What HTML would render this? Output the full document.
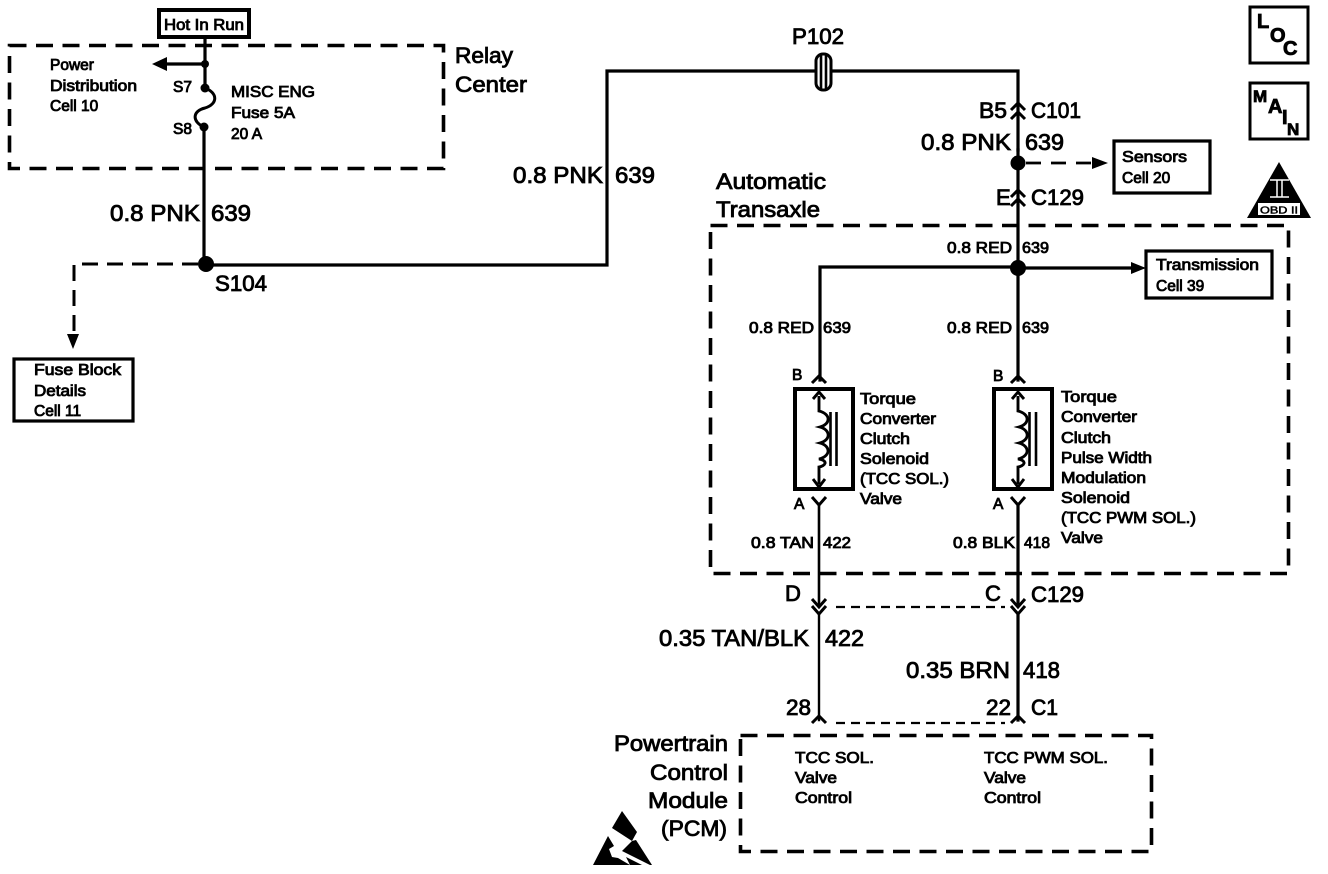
<!DOCTYPE html>
<html>
<head>
<meta charset="utf-8">
<style>
html,body{margin:0;padding:0;background:#fff;width:1328px;height:874px;overflow:hidden}
svg{display:block}
text{font-family:"Liberation Sans",sans-serif;fill:#000;stroke:#000;stroke-width:.85px}
.l{font-size:23px}
.m{font-size:22px}
.s{font-size:15.5px}
.w{fill:none;stroke:#000;stroke-width:3.2;stroke-linecap:square}
.t{fill:none;stroke:#000;stroke-width:2.9}
.d{fill:none;stroke:#000;stroke-width:3.6;stroke-dasharray:17 9.5}
.n{fill:none;stroke:#000;stroke-width:2.2;stroke-dasharray:9 6}
.b{fill:#fff;stroke:#000;stroke-width:3.2}
.c{fill:none;stroke:#000;stroke-width:3}
</style>
</head>
<body>
<svg width="1328" height="874" viewBox="0 0 1328 874" xmlns="http://www.w3.org/2000/svg">
<!-- dashed enclosures -->
<rect x="9.5" y="45.5" width="434" height="123" class="d"/>
<rect x="710.5" y="225.5" width="578" height="348" class="d"/>
<rect x="740.5" y="735.5" width="411" height="116" class="d"/>

<!-- Hot In Run -->
<rect x="159" y="10" width="90" height="27" fill="#fff" stroke="#000" stroke-width="4"/>
<text class="s" x="164" y="30" textLength="80" lengthAdjust="spacingAndGlyphs">Hot In Run</text>

<!-- left wire and fuse -->
<path class="w" d="M205 39V88"/>
<path class="w" d="M204 127V264"/>
<path d="M205 88C218 93 218 104 205 108C192 111 192 122 204 127" fill="none" stroke="#000" stroke-width="3"/>
<circle cx="205" cy="64" r="4"/><circle cx="205" cy="88" r="4.5"/><circle cx="204" cy="127" r="4.5"/>
<path class="w" d="M205 64H165"/>
<path d="M152 64L167 57V71Z"/>
<circle cx="206" cy="264" r="8"/>

<!-- main wire -->
<path class="w" d="M206 265H607V71H1018V150"/>
<path class="w" d="M1018 150V380"/>
<path class="w" d="M1018 268H1133"/>
<path d="M1146 268L1131 262V274Z"/>
<path class="w" d="M1018 267H820V380"/>
<circle cx="1018" cy="163" r="7.5"/>
<circle cx="1018" cy="268" r="8"/>

<!-- P102 -->
<rect x="816" y="54" width="15" height="36" rx="7" fill="#fff" stroke="#000" stroke-width="3"/>
<path d="M821 54V90M826 54V90" stroke="#000" stroke-width="2.6"/>

<!-- C101 / C129 chevrons -->
<path class="c" d="M1011 110L1018 103L1025 110M1011 119L1018 112L1025 119"/>
<path class="c" d="M1011 197L1018 190L1025 197M1011 206L1018 199L1025 206"/>

<!-- dashed branches -->
<path d="M198 264H74V340" fill="none" stroke="#000" stroke-width="3" stroke-dasharray="16 9"/>
<path d="M73 349L67 334H79Z"/>
<path d="M1026 163H1092" fill="none" stroke="#000" stroke-width="2.8" stroke-dasharray="15 10"/>
<path d="M1108 163L1092 157V169Z"/>

<!-- reference boxes -->
<rect x="14" y="359" width="119" height="62" class="b"/>
<rect x="1114" y="141" width="96" height="52" class="b"/>
<rect x="1146" y="251" width="126" height="47" class="b"/>
<rect x="1250" y="7" width="58" height="56" fill="#fff" stroke="#000" stroke-width="3"/>
<rect x="1250" y="83" width="58" height="56" fill="#fff" stroke="#000" stroke-width="3"/>

<!-- OBD triangle -->
<path d="M1279 162L1247 218H1311Z"/>
<path d="M1270 180H1289M1270 197H1289M1277 180V197M1282 180V197" stroke="#fff" stroke-width="1.5"/>
<rect x="1258" y="203" width="42" height="12" fill="#fff"/>
<text x="1260" y="213.5" font-size="10.5" textLength="38" lengthAdjust="spacingAndGlyphs" style="stroke-width:.5px">OBD II</text>

<!-- solenoids -->
<g>
<rect x="795" y="389" width="58" height="100" fill="none" stroke="#000" stroke-width="4"/>
<path class="t" d="M819 396V411C831 414 831 424 820 427C831 430 831 440 820 443C831 446 831 456 819 459C829 461 825 466 819 467V484"/>
<path class="t" d="M813 399L819 392L825 399M813 479L819 487L825 479"/>
<path d="M830.5 412V466M836.5 412V466" stroke="#000" stroke-width="2.6"/>
</g>
<g>
<rect x="994" y="389" width="58" height="100" fill="none" stroke="#000" stroke-width="4"/>
<path class="t" d="M1018 396V411C1030 414 1030 424 1019 427C1030 430 1030 440 1019 443C1030 446 1030 456 1018 459C1028 461 1024 466 1018 467V484"/>
<path class="t" d="M1012 399L1018 392L1024 399M1012 479L1018 487L1024 479"/>
<path d="M1029.5 412V466M1036 412V466" stroke="#000" stroke-width="2.6"/>
</g>

<!-- solenoid connectors -->
<path class="c" d="M812 383L819 376L826 383M1011 383L1018 376L1025 383"/>
<path class="c" d="M812 497L819 505L826 497M1011 497L1018 505L1025 497"/>

<!-- lower wires -->
<path class="w" d="M819 505V605" style="stroke-width:2.6"/>
<path class="w" d="M1018 505V605"/>
<path class="c" d="M812 599L819 607L826 599M1011 599L1018 607L1025 599"/>
<path class="c" d="M812 606L819 614L826 606M1011 606L1018 614L1025 606"/>
<path class="n" d="M836 607H1005"/>
<path class="w" d="M819 614V720" style="stroke-width:2.4"/>
<path class="w" d="M1018 614V720"/>
<path class="c" d="M812 723L819 716L826 723M1011 723L1018 716L1025 723"/>
<path class="n" d="M836 723H1005"/>

<!-- ESD symbol -->
<path d="M622 811L612 828L632 841L637 832Z"/>
<path d="M608 836L593 865H630L618 858L612 857L609 849L614 846Z"/>
<path d="M632 841L622 851L650 865H652L636 840Z"/>
<path d="M626 857L642 865H630Z"/>

<!-- big labels -->
<text class="m" x="455" y="63" textLength="58" lengthAdjust="spacingAndGlyphs">Relay</text>
<text class="m" x="455" y="92" textLength="72" lengthAdjust="spacingAndGlyphs">Center</text>
<text class="l" x="110" y="221" textLength="90" lengthAdjust="spacingAndGlyphs">0.8 PNK</text>
<text class="l" x="211" y="221" textLength="40" lengthAdjust="spacingAndGlyphs">639</text>
<text class="m" x="215" y="291" textLength="52" lengthAdjust="spacingAndGlyphs">S104</text>
<text class="m" x="792" y="44" textLength="52" lengthAdjust="spacingAndGlyphs">P102</text>
<text class="l" x="513" y="183" textLength="90" lengthAdjust="spacingAndGlyphs">0.8 PNK</text>
<text class="l" x="615" y="183" textLength="40" lengthAdjust="spacingAndGlyphs">639</text>
<text class="m" x="979" y="118" textLength="28" lengthAdjust="spacingAndGlyphs">B5</text>
<text class="m" x="1031" y="118" textLength="50" lengthAdjust="spacingAndGlyphs">C101</text>
<text class="l" x="921" y="150" textLength="90" lengthAdjust="spacingAndGlyphs">0.8 PNK</text>
<text class="l" x="1025" y="150" textLength="39" lengthAdjust="spacingAndGlyphs">639</text>
<text class="m" x="716" y="189" textLength="110" lengthAdjust="spacingAndGlyphs">Automatic</text>
<text class="m" x="716" y="217" textLength="104" lengthAdjust="spacingAndGlyphs">Transaxle</text>
<text class="m" x="996" y="205">E</text>
<text class="m" x="1031" y="205" textLength="53" lengthAdjust="spacingAndGlyphs">C129</text>
<text class="m" x="785" y="601">D</text>
<text class="m" x="985" y="601">C</text>
<text class="m" x="1031" y="602" textLength="53" lengthAdjust="spacingAndGlyphs">C129</text>
<text class="l" x="659" y="646" textLength="150" lengthAdjust="spacingAndGlyphs">0.35 TAN/BLK</text>
<text class="l" x="825" y="646" textLength="39" lengthAdjust="spacingAndGlyphs">422</text>
<text class="l" x="906" y="678" textLength="104" lengthAdjust="spacingAndGlyphs">0.35 BRN</text>
<text class="l" x="1023" y="678" textLength="37" lengthAdjust="spacingAndGlyphs">418</text>
<text class="m" x="786" y="715" textLength="25" lengthAdjust="spacingAndGlyphs">28</text>
<text class="m" x="986" y="715" textLength="25" lengthAdjust="spacingAndGlyphs">22</text>
<text class="m" x="1031" y="715" textLength="27" lengthAdjust="spacingAndGlyphs">C1</text>
<text class="m" x="614" y="751" textLength="114" lengthAdjust="spacingAndGlyphs">Powertrain</text>
<text class="m" x="650" y="780" textLength="78" lengthAdjust="spacingAndGlyphs">Control</text>
<text class="m" x="648" y="808" textLength="80" lengthAdjust="spacingAndGlyphs">Module</text>
<text class="m" x="661" y="836" textLength="66" lengthAdjust="spacingAndGlyphs">(PCM)</text>

<!-- small labels -->
<g class="s">
<text x="50" y="70">Power</text>
<text x="50" y="91" textLength="87" lengthAdjust="spacingAndGlyphs">Distribution</text>
<text x="50" y="111">Cell 10</text>
<text x="173" y="92">S7</text>
<text x="173" y="134">S8</text>
<text x="231" y="97" textLength="84" lengthAdjust="spacingAndGlyphs">MISC ENG</text>
<text x="231" y="118" textLength="64" lengthAdjust="spacingAndGlyphs">Fuse 5A</text>
<text x="231" y="139">20 A</text>
<text x="34" y="375" textLength="87" lengthAdjust="spacingAndGlyphs">Fuse Block</text>
<text x="34" y="396" textLength="52" lengthAdjust="spacingAndGlyphs">Details</text>
<text x="34" y="416">Cell 11</text>
<text x="1122" y="162" textLength="65" lengthAdjust="spacingAndGlyphs">Sensors</text>
<text x="1122" y="183">Cell 20</text>
<text x="1156" y="270" textLength="103" lengthAdjust="spacingAndGlyphs">Transmission</text>
<text x="1156" y="291">Cell 39</text>
<text x="947" y="253" textLength="65" lengthAdjust="spacingAndGlyphs">0.8 RED</text>
<text x="1022" y="253" textLength="27" lengthAdjust="spacingAndGlyphs">639</text>
<text x="749" y="333" textLength="65" lengthAdjust="spacingAndGlyphs">0.8 RED</text>
<text x="823" y="333" textLength="28" lengthAdjust="spacingAndGlyphs">639</text>
<text x="947" y="333" textLength="65" lengthAdjust="spacingAndGlyphs">0.8 RED</text>
<text x="1022" y="333" textLength="27" lengthAdjust="spacingAndGlyphs">639</text>
<text x="792" y="380">B</text>
<text x="993" y="381">B</text>
<text x="794" y="509">A</text>
<text x="993" y="509">A</text>
<text x="860" y="404" textLength="56" lengthAdjust="spacingAndGlyphs">Torque</text>
<text x="860" y="424" textLength="76" lengthAdjust="spacingAndGlyphs">Converter</text>
<text x="860" y="444" textLength="50" lengthAdjust="spacingAndGlyphs">Clutch</text>
<text x="860" y="464" textLength="69" lengthAdjust="spacingAndGlyphs">Solenoid</text>
<text x="860" y="484" textLength="89" lengthAdjust="spacingAndGlyphs">(TCC SOL.)</text>
<text x="860" y="504" textLength="42" lengthAdjust="spacingAndGlyphs">Valve</text>
<text x="1061" y="402" textLength="56" lengthAdjust="spacingAndGlyphs">Torque</text>
<text x="1061" y="422" textLength="76" lengthAdjust="spacingAndGlyphs">Converter</text>
<text x="1061" y="443" textLength="50" lengthAdjust="spacingAndGlyphs">Clutch</text>
<text x="1061" y="463" textLength="91" lengthAdjust="spacingAndGlyphs">Pulse Width</text>
<text x="1061" y="483" textLength="85" lengthAdjust="spacingAndGlyphs">Modulation</text>
<text x="1061" y="503" textLength="69" lengthAdjust="spacingAndGlyphs">Solenoid</text>
<text x="1061" y="523" textLength="135" lengthAdjust="spacingAndGlyphs">(TCC PWM SOL.)</text>
<text x="1061" y="543" textLength="42" lengthAdjust="spacingAndGlyphs">Valve</text>
<text x="751" y="548" textLength="63" lengthAdjust="spacingAndGlyphs">0.8 TAN</text>
<text x="823" y="548" textLength="28" lengthAdjust="spacingAndGlyphs">422</text>
<text x="953" y="548" textLength="62" lengthAdjust="spacingAndGlyphs">0.8 BLK</text>
<text x="1024" y="548" textLength="26" lengthAdjust="spacingAndGlyphs">418</text>
<text x="795" y="763" textLength="79" lengthAdjust="spacingAndGlyphs">TCC SOL.</text>
<text x="795" y="783" textLength="42" lengthAdjust="spacingAndGlyphs">Valve</text>
<text x="795" y="803" textLength="57" lengthAdjust="spacingAndGlyphs">Control</text>
<text x="984" y="763" textLength="124" lengthAdjust="spacingAndGlyphs">TCC PWM SOL.</text>
<text x="984" y="783" textLength="42" lengthAdjust="spacingAndGlyphs">Valve</text>
<text x="984" y="803" textLength="57" lengthAdjust="spacingAndGlyphs">Control</text>
</g>

<!-- LOC / MAIN -->
<g font-size="20" style="font-weight:bold">
<text x="1257" y="28">L</text>
<text x="1270" y="42">O</text>
<text x="1283" y="55">C</text>
<text x="1253" y="102" font-size="17">M</text>
<text x="1268" y="113">A</text>
<text x="1282" y="124">I</text>
<text x="1287" y="135" font-size="17">N</text>
</g>
</svg>
</body>
</html>
